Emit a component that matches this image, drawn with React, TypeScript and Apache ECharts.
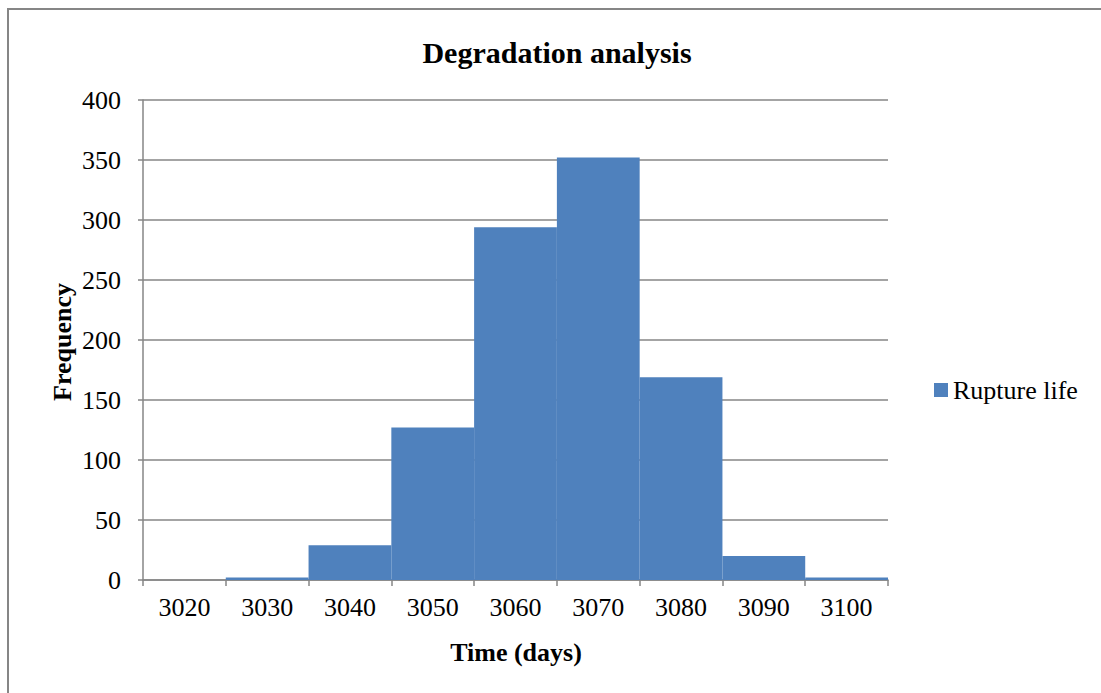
import React, { useEffect, useRef } from "react";
import * as echarts from "echarts";

const categories = ["3020", "3030", "3040", "3050", "3060", "3070", "3080", "3090", "3100"];
const ruptureLife = [0, 2, 29, 127, 294, 352, 169, 20, 2];
const seriesName = "Rupture life";
const titleText = "Degradation analysis";
const xName = "Time (days)";
const yName = "Frequency";

const FONT = "'Liberation Serif', 'Times New Roman', serif";
const GRAY = "#868686";

export default function App() {
  const ref = useRef<HTMLDivElement>(null);
  useEffect(() => {
    if (!ref.current) return;
    const chart = echarts.init(ref.current, null, { renderer: "svg" });
    chart.setOption({
      animation: false,
      backgroundColor: "#ffffff",
      legend: {
        left: 929,
        top: 372,
        itemWidth: 14,
        itemHeight: 14,
        icon: "rect",
        itemGap: 6,
        textStyle: { fontFamily: FONT, fontSize: 26, color: "#000", padding: [0, 0, 0, 0] },
        data: [seriesName],
      },
      grid: { left: 143, right: 213, top: 100, bottom: 113, containLabel: false },
      xAxis: {
        type: "category",
        data: categories,
        axisLine: { show: true, lineStyle: { color: GRAY, width: 1.5 } },
        axisTick: { show: true, alignWithLabel: false, length: 6, lineStyle: { color: GRAY, width: 1.5 } },
        axisLabel: { fontFamily: FONT, fontSize: 26, color: "#000", margin: 14 },
        splitLine: { show: false },
      },
      yAxis: {
        type: "value",
        min: 0,
        max: 400,
        interval: 50,
        axisLine: { show: true, lineStyle: { color: GRAY, width: 1.5 } },
        axisTick: { show: true, length: 5, lineStyle: { color: GRAY, width: 1.5 } },
        axisLabel: { fontFamily: FONT, fontSize: 26, color: "#000", margin: 22 },
        splitLine: { show: true, lineStyle: { color: GRAY, width: 1.5 } },
      },
      series: [
        {
          name: seriesName,
          type: "bar",
          data: ruptureLife,
          barCategoryGap: "0%",
          itemStyle: { color: "#4F81BD" },
        },
      ],
      graphic: [
        {
          type: "rect",
          shape: { x: 8, y: 9, width: 1200, height: 800 },
          style: { fill: "none", stroke: GRAY, lineWidth: 2 },
          silent: true,
        },
        {
          type: "text",
          x: 557,
          y: 52,
          style: {
            text: titleText,
            fontFamily: FONT,
            fontSize: 30,
            fontWeight: "bold",
            fill: "#000",
            align: "center",
            verticalAlign: "middle",
          },
        },
        {
          type: "text",
          x: 62,
          y: 342,
          rotation: Math.PI / 2,
          style: {
            text: yName,
            fontFamily: FONT,
            fontSize: 26,
            fontWeight: "bold",
            fill: "#000",
            align: "center",
            verticalAlign: "middle",
          },
        },
        {
          type: "text",
          x: 516,
          y: 652,
          style: {
            text: xName,
            fontFamily: FONT,
            fontSize: 26,
            fontWeight: "bold",
            fill: "#000",
            align: "center",
            verticalAlign: "middle",
          },
        },
      ],
    });
    return () => chart.dispose();
  }, []);
  return (
    <div
      ref={ref}
      style={{ position: "fixed", left: 0, top: 0, width: 1101, height: 693 }}
    />
  );
}
